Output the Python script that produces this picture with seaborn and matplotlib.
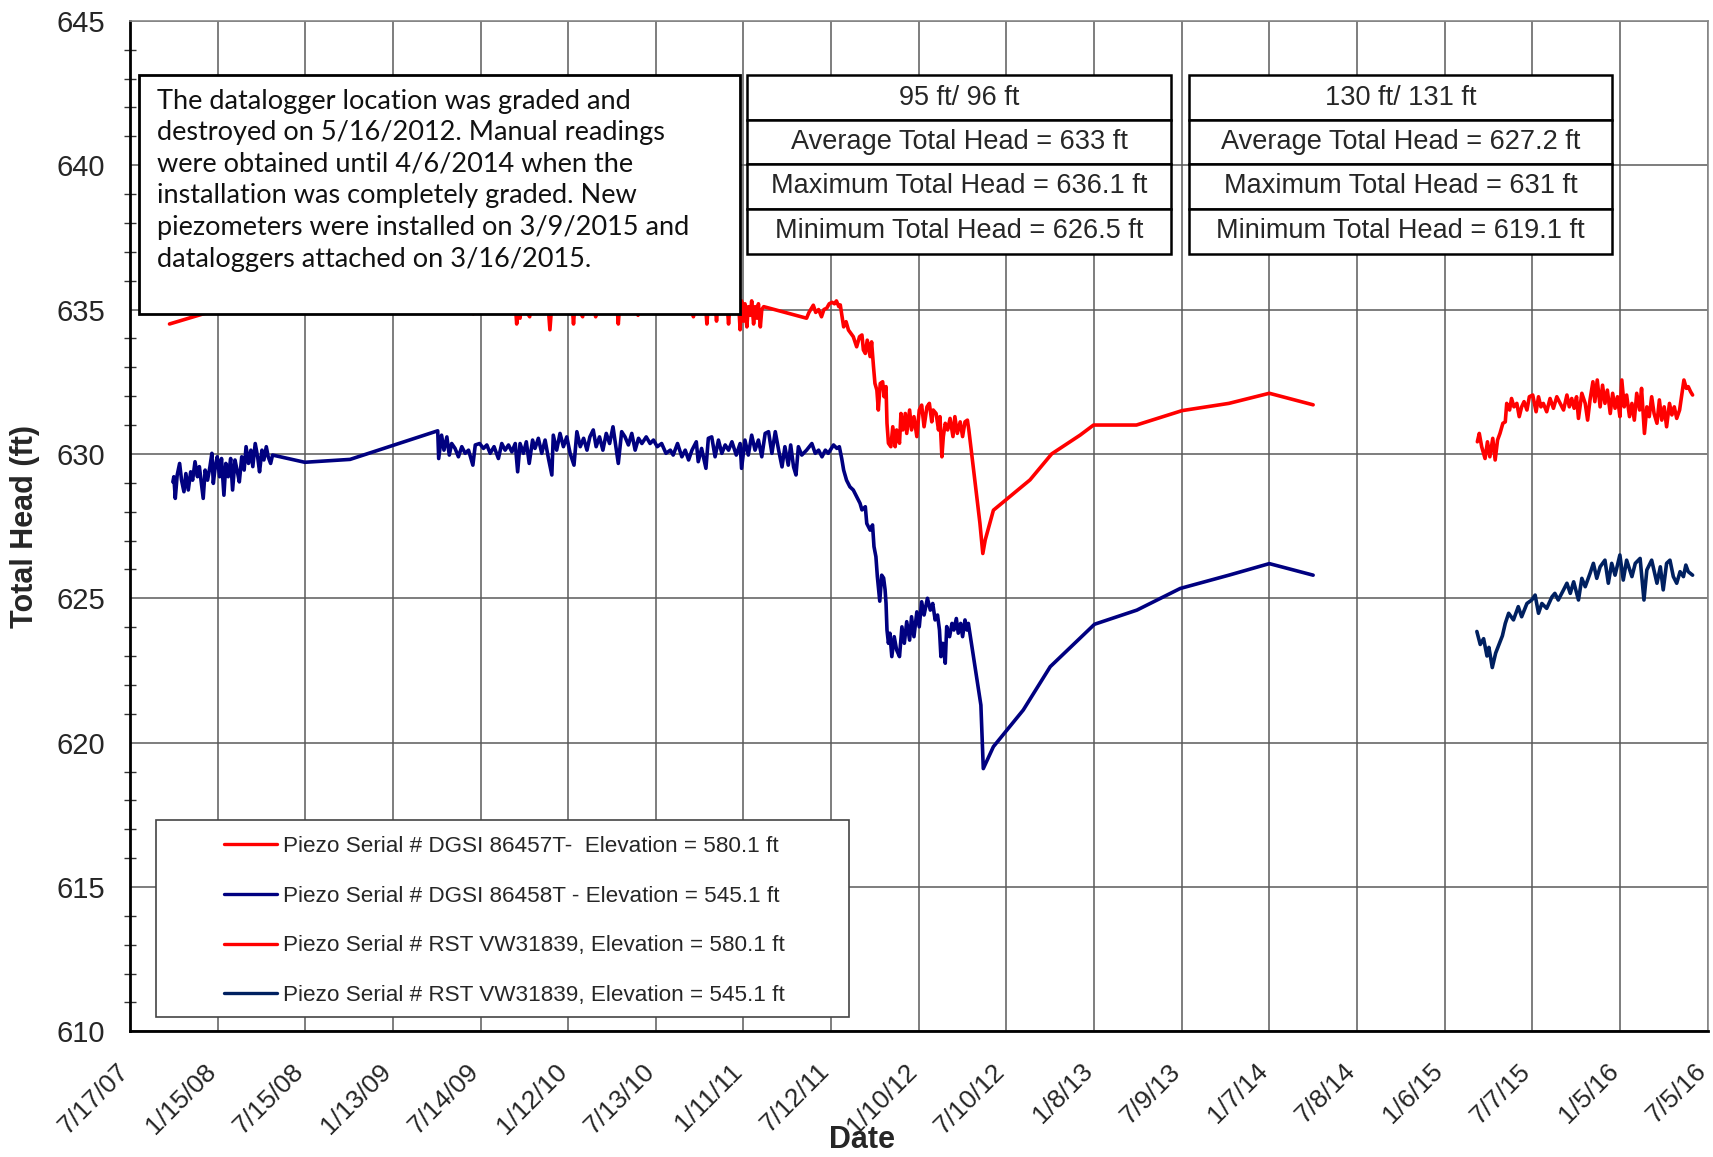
import numpy as np
import pandas as pd
import matplotlib
matplotlib.use("Agg")
import matplotlib.pyplot as plt
import matplotlib.dates as mdates
import matplotlib.transforms as mtransforms
from matplotlib.patches import Rectangle
from matplotlib.lines import Line2D
from matplotlib.ticker import MultipleLocator
import seaborn as sns

# x values are days counted from 7/17/2007 (the first axis tick)
START = pd.Timestamp("2007-07-17")

red_dgsi_day = [82, 182, 296, 364, 457, 639, 700, 713, 716, 800, 803, 806, 810, 813, 830, 833,
                868, 872, 876, 918, 921, 924, 940, 943, 964, 967, 970, 1011, 1014, 1017, 1052,
                1055, 1058, 1167, 1170, 1173, 1195, 1198, 1201, 1215, 1218, 1221, 1240, 1243,
                1246, 1264, 1267, 1270, 1274, 1277, 1281, 1284, 1288, 1291, 1295, 1298, 1302,
                1305, 1309, 1312, 1316, 1405, 1410, 1419, 1424, 1430, 1436, 1441, 1447, 1452,
                1458, 1463, 1467, 1472, 1475, 1482, 1487, 1492, 1502, 1509, 1515, 1520, 1523,
                1527, 1531, 1537, 1540, 1544, 1547, 1551, 1554, 1558, 1563, 1566, 1570, 1572,
                1575, 1580, 1584, 1589, 1592, 1598, 1601, 1605, 1610, 1613, 1619, 1623, 1628,
                1634, 1639, 1644, 1649, 1655, 1660, 1665, 1668, 1674, 1679, 1682, 1686, 1689,
                1693, 1698, 1703, 1709, 1713, 1718, 1724, 1729, 1734, 1739, 1742, 1765, 1771,
                1776, 1793, 1869, 1914, 1973, 2001, 2090, 2185, 2282, 2366, 2457]
red_dgsi_head = [634.5, 635.0, 635.3, 635.2, 635.3, 635.5, 635.2, 634.85, 635.2, 635.2, 634.5,
                 635.2, 634.7, 635.2, 634.75, 635.2, 635.2, 634.3, 635.2, 635.2, 634.5, 635.2,
                 634.75, 635.2, 635.2, 634.75, 635.2, 635.2, 634.5, 635.2, 635.2, 634.8, 635.2,
                 635.2, 634.75, 635.2, 635.2, 634.5, 635.2, 635.2, 634.6, 635.2, 635.2, 634.5,
                 635.2, 635.2, 634.3, 635.3, 634.6, 635.2, 634.4, 635.1, 634.8, 635.3, 634.5,
                 635.1, 634.7, 635.2, 634.4, 635.0, 635.1, 634.7, 634.9, 635.15, 634.9, 635.0,
                 634.75, 635.0, 635.05, 635.2, 635.25, 635.2, 635.3, 635.1, 635.16, 634.4,
                 634.58, 634.29, 634.06, 633.71, 634.06, 634.12, 633.6, 633.48, 633.94, 633.37,
                 633.88, 633.02, 632.44, 632.21, 631.52, 632.44, 632.5, 631.98, 632.33, 631.06,
                 630.37, 630.25, 630.94, 630.25, 630.83, 630.37, 631.4, 630.83, 631.4, 630.71,
                 631.52, 630.83, 631.29, 630.6, 631.52, 631.69, 630.94, 631.63, 631.75, 631.11,
                 631.52, 631.4, 630.83, 631.29, 629.9, 630.6, 631.06, 630.83, 631.23, 630.6,
                 631.29, 630.71, 631.11, 630.6, 631.11, 631.17, 630.83, 627.6, 626.55, 627.02,
                 628.05, 629.1, 630.0, 630.65, 631.0, 631.0, 631.5, 631.75, 632.1, 631.7]

blue_dgsi_day = [89, 91, 94, 98, 103, 107, 112, 116, 121, 126, 130, 135, 140, 144, 149, 152, 156,
                 161, 166, 170, 173, 177, 181, 186, 190, 195, 199, 204, 209, 213, 218, 223, 227,
                 232, 237, 241, 246, 251, 255, 260, 265, 269, 274, 278, 283, 287, 292, 296, 363,
                 457, 639, 641, 647, 652, 658, 663, 668, 675, 682, 689, 696, 703, 712, 717, 726,
                 734, 741, 748, 756, 765, 772, 779, 786, 793, 800, 805, 810, 817, 823, 829, 836,
                 841, 848, 855, 862, 869, 876, 879, 886, 893, 900, 907, 914, 922, 928, 935, 942,
                 949, 955, 962, 968, 975, 982, 989, 996, 1003, 1009, 1014, 1021, 1028, 1035, 1042,
                 1049, 1056, 1063, 1072, 1080, 1087, 1095, 1104, 1113, 1122, 1128, 1137, 1146,
                 1153, 1160, 1167, 1176, 1180, 1187, 1196, 1201, 1208, 1215, 1222, 1229, 1236,
                 1243, 1250, 1259, 1267, 1270, 1277, 1284, 1291, 1298, 1305, 1312, 1319, 1326,
                 1333, 1340, 1347, 1354, 1360, 1367, 1372, 1378, 1383, 1388, 1395, 1405, 1416,
                 1423, 1430, 1437, 1444, 1450, 1461, 1468, 1473, 1478, 1482, 1488, 1495, 1502,
                 1509, 1516, 1520, 1527, 1530, 1537, 1542, 1545, 1549, 1552, 1557, 1561, 1565,
                 1568, 1570, 1572, 1575, 1578, 1582, 1587, 1592, 1598, 1603, 1608, 1613, 1619,
                 1623, 1628, 1634, 1639, 1644, 1649, 1656, 1662, 1667, 1672, 1677, 1681, 1684,
                 1688, 1693, 1696, 1702, 1707, 1711, 1716, 1720, 1725, 1729, 1734, 1738, 1741,
                 1767, 1772, 1793, 1855, 1911, 2003, 2091, 2181, 2282, 2366, 2457]
blue_dgsi_head = [629.03, 629.21, 628.46, 629.27, 629.67, 629.09, 628.69, 629.32, 628.75, 629.38,
                  629.09, 629.73, 629.21, 629.56, 628.86, 628.46, 629.44, 629.09, 629.56, 630.02,
                  628.98, 629.56, 629.9, 629.21, 629.84, 628.57, 629.67, 629.21, 629.84, 628.75,
                  629.79, 629.38, 629.03, 629.9, 629.44, 630.25, 629.67, 630.13, 629.56, 630.36,
                  629.9, 629.38, 630.13, 629.79, 630.25, 629.9, 629.67, 629.96, 629.71, 629.81,
                  630.8, 629.84, 630.65, 630.13, 630.59, 629.96, 630.36, 630.19, 629.9, 630.25,
                  630.02, 630.13, 629.61, 630.31, 630.36, 630.19, 630.31, 630.02, 630.25, 629.84,
                  630.36, 630.13, 630.31, 630.07, 630.36, 629.38, 630.36, 630.02, 630.42, 629.67,
                  630.48, 630.19, 630.54, 630.02, 630.48, 629.84, 629.27, 630.65, 630.13, 630.71,
                  630.25, 630.59, 630.02, 629.61, 630.77, 630.25, 630.54, 630.13, 630.59, 630.83,
                  630.25, 630.59, 630.13, 630.71, 630.36, 630.94, 630.25, 629.67, 630.77, 630.59,
                  630.31, 630.71, 630.13, 630.54, 630.36, 630.59, 630.36, 630.48, 630.25, 630.36,
                  630.02, 630.13, 629.96, 630.36, 629.9, 630.13, 629.79, 630.13, 630.42, 629.73,
                  630.19, 629.5, 630.54, 630.59, 629.9, 630.48, 630.02, 630.31, 630.13, 630.42,
                  629.96, 630.36, 629.5, 630.48, 629.96, 630.65, 630.13, 630.48, 629.9, 630.71,
                  630.77, 630.02, 630.77, 630.13, 629.55, 630.25, 629.61, 630.31, 629.55, 629.27,
                  630.25, 629.96, 630.13, 630.36, 630.02, 630.13, 629.9, 630.13, 630.02, 630.31,
                  630.19, 630.25, 629.84, 629.44, 629.09, 628.86, 628.75, 628.52, 628.29, 628.06,
                  628.17, 627.59, 627.36, 627.54, 626.79, 626.44, 625.75, 624.9, 625.8, 625.7,
                  625.3, 624.83, 623.9, 623.44, 623.79, 622.98, 623.67, 623.21, 622.98, 624.01,
                  623.44, 624.19, 623.55, 624.36, 623.67, 624.53, 624.01, 624.88, 624.42, 625.0,
                  624.59, 624.82, 624.25, 624.42, 623.9, 622.98, 623.44, 622.75, 624.02, 623.67,
                  624.13, 623.9, 624.3, 623.79, 624.13, 623.67, 624.25, 623.9, 624.13, 621.3,
                  619.1, 619.86, 621.13, 622.63, 624.1, 624.59, 625.34, 625.8, 626.2, 625.8]

red_rst_day = [2798, 2802, 2807, 2814, 2819, 2824, 2830, 2835, 2840, 2845, 2851, 2856, 2859, 2865,
               2869, 2874, 2880, 2885, 2890, 2895, 2901, 2906, 2913, 2920, 2925, 2930, 2935, 2942,
               2949, 2956, 2963, 2970, 2977, 2984, 2989, 2994, 2999, 3004, 3008, 3015, 3022, 3027,
               3032, 3038, 3042, 3047, 3053, 3058, 3063, 3068, 3074, 3079, 3084, 3089, 3094, 3098,
               3103, 3108, 3114, 3119, 3124, 3129, 3135, 3139, 3145, 3150, 3155, 3160, 3165, 3171,
               3176, 3181, 3186, 3191, 3197, 3202, 3207, 3212, 3218, 3223, 3227, 3232, 3236, 3241,
               3245]
red_rst_head = [630.42, 630.71, 630.25, 629.84, 630.42, 629.9, 630.54, 629.79, 630.48, 630.71,
                631.06, 631.11, 631.75, 631.52, 631.92, 631.63, 631.75, 631.29, 631.63, 631.81,
                631.52, 631.98, 632.04, 631.46, 631.98, 631.63, 631.75, 631.46, 631.92, 631.58,
                631.98, 631.75, 631.52, 632.04, 631.63, 631.92, 631.58, 631.98, 631.23, 632.1,
                631.75, 631.17, 631.87, 632.5, 631.81, 632.56, 631.63, 632.38, 631.75, 632.21,
                631.4, 632.1, 631.58, 631.98, 631.29, 632.56, 631.63, 632.04, 631.29, 631.75,
                631.17, 632.1, 631.52, 632.27, 630.71, 631.63, 631.29, 631.98, 631.4, 631.06,
                631.87, 631.17, 631.63, 630.94, 631.75, 631.35, 631.63, 631.23, 631.52, 632.1,
                632.56, 632.27, 632.33, 632.15, 632.04]

blue_rst_day = [2797, 2804, 2811, 2818, 2822, 2829, 2836, 2843, 2850, 2856, 2863, 2873, 2883, 2890,
                2901, 2911, 2918, 2925, 2932, 2942, 2953, 2959, 2966, 2977, 2984, 2991, 2998, 3008,
                3015, 3022, 3032, 3039, 3046, 3053, 3063, 3070, 3077, 3084, 3094, 3101, 3108, 3119,
                3126, 3136, 3144, 3150, 3160, 3171, 3178, 3184, 3191, 3198, 3205, 3212, 3219, 3226,
                3231, 3236, 3245]
blue_rst_head = [623.85, 623.4, 623.6, 623.0, 623.3, 622.6, 623.1, 623.4, 623.7, 624.13, 624.48,
                 624.25, 624.71, 624.36, 624.82, 624.94, 625.11, 624.48, 624.82, 624.65, 625.05,
                 625.17, 624.94, 625.29, 625.52, 625.17, 625.57, 624.94, 625.69, 625.4, 625.86,
                 626.21, 625.69, 626.09, 626.32, 625.52, 626.21, 625.8, 626.5, 625.63, 626.32,
                 625.75, 626.21, 626.38, 624.94, 625.98, 626.32, 625.52, 626.09, 625.29, 626.21,
                 626.32, 625.75, 625.52, 625.92, 625.75, 626.15, 625.92, 625.8]

series_labels = ["Piezo Serial # DGSI 86457T-  Elevation = 580.1 ft",
                 "Piezo Serial # DGSI 86458T - Elevation = 545.1 ft",
                 "Piezo Serial # RST VW31839, Elevation = 580.1 ft",
                 "Piezo Serial # RST VW31839, Elevation = 545.1 ft"]
series_colors = ["#FF0000", "#000080", "#FF0000", "#002060"]

note_text = ("The datalogger location was graded and\n"
             "destroyed on 5/16/2012. Manual readings\n"
             "were obtained until 4/6/2014 when the\n"
             "installation was completely graded. New\n"
             "piezometers were installed on 3/9/2015 and\n"
             "dataloggers attached on 3/16/2015.")
table_95 = ["95 ft/ 96 ft", "Average Total Head = 633 ft",
            "Maximum Total Head = 636.1 ft", "Minimum Total Head = 626.5 ft"]
table_130 = ["130 ft/ 131 ft", "Average Total Head = 627.2 ft",
             "Maximum Total Head = 631 ft", "Minimum Total Head = 619.1 ft"]


def to_frame(days, head):
    return pd.DataFrame({"date": START + pd.to_timedelta(days, unit="D"), "head": head})


sns.set_theme(style="white")
plt.rcParams["font.family"] = ["Liberation Sans", "DejaVu Sans"]

fig = plt.figure(figsize=(17.13, 11.57), dpi=100)
ax = fig.add_axes([0.0759, 0.1086, 0.9209, 0.8734])

data = [(red_dgsi_day, red_dgsi_head), (blue_dgsi_day, blue_dgsi_head),
        (red_rst_day, red_rst_head), (blue_rst_day, blue_rst_head)]
for (d, h), c in zip(data, series_colors):
    sns.lineplot(data=to_frame(d, h), x="date", y="head", color=c, lw=2.6,
                 estimator=None, sort=False, ax=ax, legend=False, zorder=3)

# axes
tick_dates = [START + pd.Timedelta(days=182 * k) for k in range(19)]
ax.set_xlim(tick_dates[0], tick_dates[-1])
ax.set_ylim(610, 645)
ax.set_xticks(tick_dates)
ax.xaxis.set_major_formatter(mdates.DateFormatter("%-m/%-d/%y"))
ax.yaxis.set_major_locator(MultipleLocator(5))
ax.yaxis.set_minor_locator(MultipleLocator(1))
ax.grid(True, which="major", color="#5a5a5a", lw=1.1)
ax.set_axisbelow(True)
ax.tick_params(axis="x", which="major", direction="out", length=12, width=1, color="#333333",
               pad=4)
ax.tick_params(axis="y", which="major", direction="out", length=8, width=1, color="#333333",
               pad=10)
ax.tick_params(axis="y", which="minor", direction="inout", length=9, width=1, color="#333333",
               left=True)
shift = mtransforms.ScaledTranslation(-10 / 72, -4 / 72, fig.dpi_scale_trans)
for lab in ax.get_xticklabels():
    lab.set_rotation(45)
    lab.set_ha("right")
    lab.set_rotation_mode("anchor")
    lab.set_fontsize(19)
    lab.set_transform(lab.get_transform() + shift)
for lab in ax.get_yticklabels():
    lab.set_fontsize(21)
for s in ["left", "bottom"]:
    ax.spines[s].set_color("black")
    ax.spines[s].set_linewidth(2)
for s in ["top", "right"]:
    ax.spines[s].set_color("#888888")
    ax.spines[s].set_linewidth(1.2)

ax.set_xlabel("Date", fontsize=22, fontweight="bold")
ax.xaxis.set_label_coords(0.464, -0.093)
ax.set_ylabel("Total Head (ft)", fontsize=22, fontweight="bold", labelpad=12)

# note box
ax.add_patch(Rectangle((0.0055, 0.710), 0.381, 0.236, transform=ax.transAxes,
                       facecolor="white", edgecolor="black", lw=2, zorder=5))
ax.text(0.0173, 0.933, note_text, transform=ax.transAxes, ha="left", va="top",
        fontsize=19.5, family=["Lato", "DejaVu Sans"], linespacing=1.33, zorder=6,
        color="#111111")

# stats tables
row_edges = [0.946, 0.9016, 0.8584, 0.8141, 0.7697]
for x0, rows in [(0.3913, table_95), (0.671, table_130)]:
    for i, txt in enumerate(rows):
        y_top, y_bot = row_edges[i], row_edges[i + 1]
        ax.add_patch(Rectangle((x0, y_bot), 0.2687, y_top - y_bot, transform=ax.transAxes,
                               facecolor="white", edgecolor="black", lw=1.8, zorder=5))
        ax.text(x0 + 0.2687 / 2, (y_top + y_bot) / 2, txt, transform=ax.transAxes,
                ha="center", va="center", fontsize=19.5, zorder=6)

# legend with its own frame
ax.add_patch(Rectangle((0.0166, 0.014), 0.439, 0.195, transform=ax.transAxes,
                       facecolor="white", edgecolor="#444444", lw=1.2, zorder=5))
handles = [Line2D([0], [0], color=c, lw=2.4) for c in series_colors]
leg = ax.legend(handles, series_labels, loc="upper left", bbox_to_anchor=(0.0596, 0.1935),
                frameon=False, borderaxespad=0, borderpad=0, handlelength=2.35,
                handletextpad=0.25, labelspacing=1.28, prop={"size": 16.2})
leg.set_zorder(7)

fig.savefig("out.png", dpi=100)
